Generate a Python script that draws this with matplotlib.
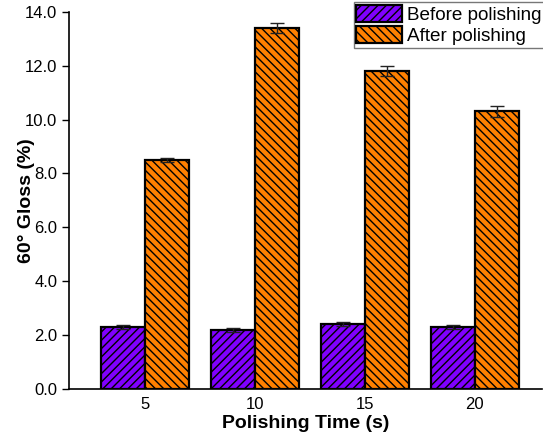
import matplotlib
matplotlib.use("Agg")
import matplotlib.pyplot as plt
import numpy as np

# data
times = ["5", "10", "15", "20"]
before = [2.3, 2.2, 2.4, 2.3]
before_err = [0.08, 0.08, 0.08, 0.07]
after = [8.5, 13.4, 11.8, 10.3]
after_err = [0.08, 0.2, 0.2, 0.2]

plt.rcParams['font.family'] = ['Liberation Sans', 'DejaVu Sans']
plt.rcParams['hatch.linewidth'] = 1.0

fig = plt.figure(figsize=(5.43, 4.38), dpi=100)
ax = fig.add_axes([0.127, 0.112, 0.871, 0.861])

x = np.arange(1, len(times) + 1)
w = 0.4
ax.bar(x - w / 2, before, w, color='#8000ff', edgecolor='black', linewidth=1.6,
       hatch='////', label='Before polishing', zorder=2)
ax.bar(x + w / 2, after, w, color='#ff8000', edgecolor='black', linewidth=1.6,
       hatch='\\\\\\\\', label='After polishing', zorder=2)
ax.errorbar(x - w / 2, before, yerr=before_err, fmt='none', ecolor='#222222',
            elinewidth=1, capsize=5, capthick=1, zorder=3)
ax.errorbar(x + w / 2, after, yerr=after_err, fmt='none', ecolor='#222222',
            elinewidth=1, capsize=5, capthick=1, zorder=3)

ax.set_xlim(0.31, 4.61)
ax.set_ylim(0, 14)
ax.set_xticks(x)
ax.set_xticklabels(times)
ax.set_yticks(np.arange(0, 14.1, 2))
ax.set_yticklabels(["%.1f" % v for v in np.arange(0, 14.1, 2)])
ax.tick_params(axis='x', length=0, labelsize=12, pad=6)
ax.tick_params(axis='y', direction='out', length=5, width=1, labelsize=12)
ax.spines['top'].set_visible(False)
ax.spines['right'].set_visible(False)
ax.spines['left'].set_linewidth(1.2)
ax.spines['bottom'].set_linewidth(1.2)

ax.set_xlabel('Polishing Time (s)', fontsize=14, fontweight='bold', labelpad=2)
ax.set_ylabel('60° Gloss (%)', fontsize=14, fontweight='bold', labelpad=-7)

leg = ax.legend(loc='upper right', bbox_to_anchor=(1.006, 1.025), fontsize=13.6,
                frameon=True, fancybox=False, edgecolor='#555555',
                handlelength=2.4, handleheight=1.0, handletextpad=0.3,
                borderpad=0.15, labelspacing=0.1, borderaxespad=0)
leg.get_frame().set_linewidth(1.0)

fig.savefig("out.png", dpi=100)
